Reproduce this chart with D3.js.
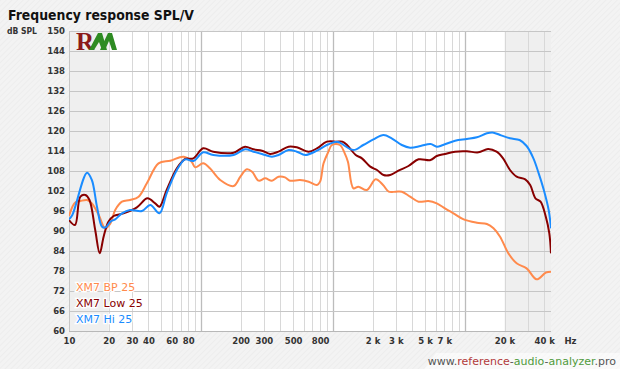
<!DOCTYPE html>
<html><head><meta charset="utf-8">
<script src="https://cdn.jsdelivr.net/npm/d3@7"></script>
<style>html,body{margin:0;padding:0;background:#f3f3f3;}svg{display:block;}</style>
</head><body>
<script>
const yTicks = [60,66,72,78,84,90,96,102,108,114,120,126,132,138,144,150];
const xTickLabels = [[10,"10"],[20,"20"],[30,"30"],[40,"40"],[60,"60"],[80,"80"],[200,"200"],[300,"300"],[500,"500"],[800,"800"],[2000,"2 k"],[3000,"3 k"],[5000,"5 k"],[7000,"7 k"],[20000,"20 k"],[40000,"40 k"]];
const seriesNames = ["XM7 BP 25","XM7 Low 25","XM7 Hi 25"];
const seriesColors = ["#ff8a4c","#880000","#1a8cff"];

const bpFreq = [10,11.1,12.2,13.7,14.9,16.8,18.8,20.6,22.4,25.2,29,33.7,38.9,47.7,58.6,74,85,90.5,104,117,140,177,199,223,244,274,307,345,387,434,473,564,656,757,800,850,925,983,1130,1230,1300,1430,1560,1810,2110,2400,2650,3000,3330,3850,4460,5300,6130,7070,8200,9800,12340,14700,16500,18500,21400,24700,29400,35000,41100,45000];
const bpDb = [94.5,98.5,99.0,99.3,98.3,94.8,90.8,92.3,96.3,98.8,99.3,100.3,104.3,110.3,111.1,112.3,110.8,109.1,110.3,108.8,105.3,103.5,106.3,108.5,107.8,105.1,105.8,105.1,106.3,106.1,105.1,105.3,104.8,103.8,104.8,110.3,113.8,115.8,115.8,113.3,110.8,102.8,103.3,102.3,105.5,103.8,101.8,101.8,101.8,100.3,98.8,99.0,98.3,96.8,95.3,93.5,92.5,92.1,90.8,88.3,83.3,80.3,78.8,75.5,77.5,77.8];

const lowFreq = [10,11.1,12.2,13.3,14.3,15.8,17.1,18.3,19.9,21.8,25.9,32.7,39.3,45,48.5,55,65.7,76,87.6,104,124,177,216,250,290,334,387,461,533,656,757,900,1070,1180,1280,1490,1660,1920,2160,2420,2720,3140,3740,4460,5500,6130,7070,8440,10360,12700,15000,17400,19500,22000,24700,28700,31300,34300,37500,41100,43700,45000];
const lowDb = [93.3,91.8,100.3,100.8,99.3,90.3,83.3,88.3,92.8,94.5,95.3,97.1,99.8,98.3,97.3,102.3,108.8,111.6,111.8,114.8,113.8,113.5,115.3,114.5,114.1,113.1,113.8,115.3,115.1,113.8,114.8,116.8,116.8,116.8,115.8,112.8,111.8,109.3,108.3,106.8,106.8,108.1,109.5,111.5,111.3,112.5,113.1,113.8,113.9,113.6,114.6,113.8,111.8,108.3,106.3,105.5,103.8,99.8,98.8,94.3,89.3,83.3];

const hiFreq = [10,10.6,13.7,14.9,16.3,17.8,19,20.6,22.4,25.2,29,35.7,41.3,48.5,55,65.7,76,87.6,104,124,177,216,250,290,345,387,461,533,617,757,900,1070,1130,1430,1700,2030,2420,2790,3330,3850,4620,5500,6130,6840,8440,10360,12340,14700,16500,18500,22000,26000,29400,33100,36300,39700,43200,45000];
const hiDb = [93.5,94.8,107.5,105.3,97.3,91.3,91.1,92.8,93.5,95.3,96.3,96.0,97.8,95.3,101.3,108.3,111.5,111.0,113.6,112.8,112.8,114.5,113.8,113.1,112.3,112.8,114.3,113.8,112.8,114.1,115.8,116.8,116.5,114.3,115.8,117.5,118.8,117.8,115.8,115.0,115.5,116.1,115.3,115.8,117.1,117.6,118.1,119.3,119.5,118.8,117.8,117.3,115.5,111.8,107.3,102.3,96.3,90.8];

const W = 620, H = 369;
const L = 69, R = 551, T = 31, B = 331;
const FONT = "'DejaVu Sans', Verdana, sans-serif";

const svg = d3.select("body").append("svg").attr("width", W).attr("height", H);
const defs = svg.append("defs");
const pat = defs.append("pattern").attr("id","hatch").attr("width",4).attr("height",4)
  .attr("patternUnits","userSpaceOnUse").attr("patternTransform","rotate(45)");
pat.append("rect").attr("width",4).attr("height",4).attr("fill","#f3f3f3");
pat.append("line").attr("x1",0).attr("y1",0).attr("x2",0).attr("y2",4).attr("stroke","#ececec").attr("stroke-width",1.5);
svg.append("rect").attr("width",W).attr("height",H).attr("fill","url(#hatch)");

const x = d3.scaleLog().domain([10, 45000]).range([L, R]);
const y = d3.scaleLinear().domain([60, 150]).range([B, T]);

// plot background
svg.append("rect").attr("x",L).attr("y",T).attr("width",R-L).attr("height",B-T).attr("fill","#fff");
svg.append("rect").attr("x",x(10)).attr("y",T).attr("width",x(20)-x(10)).attr("height",B-T).attr("fill","#efefef");
svg.append("rect").attr("x",x(20000)).attr("y",T).attr("width",R-x(20000)).attr("height",B-T).attr("fill","#efefef");

// vertical grid
const decades = [100,1000,10000];
const vgrid = [];
for (let d = 10; d <= 10000; d *= 10) for (let m = 1; m <= 9; m++) { const f = d*m; if (f > 10 && f < 45000) vgrid.push(f); }
svg.append("g").selectAll("line").data(vgrid).join("line")
  .attr("x1", d => Math.round(x(d))+0.5).attr("x2", d => Math.round(x(d))+0.5)
  .attr("y1", T).attr("y2", B)
  .attr("stroke", d => decades.includes(d) ? "#bcbcbc" : "#d8d8d8")
  .attr("stroke-width", d => decades.includes(d) ? 1.3 : 1);

// horizontal grid
svg.append("g").selectAll("line").data(yTicks.filter(v => v > 60)).join("line")
  .attr("x1", L).attr("x2", R)
  .attr("y1", d => Math.round(y(d))+0.5).attr("y2", d => Math.round(y(d))+0.5)
  .attr("stroke", "#c6c6c6").attr("stroke-width", 1);

// axes frame lines
svg.append("line").attr("x1",L+0.5).attr("x2",L+0.5).attr("y1",T).attr("y2",B).attr("stroke","#c6c6c6");
svg.append("line").attr("x1",L).attr("x2",R).attr("y1",B+0.5).attr("y2",B+0.5).attr("stroke","#b8b8b8");

// y axis labels
const yAxis = d3.axisLeft(y).tickValues(yTicks).tickSize(0).tickPadding(4);
const gy = svg.append("g").attr("transform",`translate(${L},0)`).call(yAxis);
gy.select(".domain").remove();
gy.selectAll("text").attr("font-family",FONT).attr("font-weight","bold").attr("font-size","8.5px").attr("fill","#333");

// x axis labels
const xAxis = d3.axisBottom(x).tickValues(xTickLabels.map(d=>d[0])).tickFormat((d,i)=>xTickLabels[i][1]).tickSize(0).tickPadding(7);
const gx = svg.append("g").attr("transform",`translate(0,${B})`).call(xAxis);
gx.select(".domain").remove();
gx.selectAll("text").attr("font-family",FONT).attr("font-weight","bold").attr("font-size","8.5px").attr("fill","#333");
svg.append("text").attr("x",570.5).attr("y",344).attr("text-anchor","middle").attr("font-family",FONT).attr("font-weight","bold").attr("font-size","8.5px").attr("fill","#333").text("Hz");

svg.append("text").attr("x",7).attr("y",34).attr("font-family",FONT).attr("font-weight","bold").attr("font-size","8px").attr("fill","#333")
  .attr("textLength",30).attr("lengthAdjust","spacingAndGlyphs").text("dB SPL");

// title
svg.append("text").attr("x",8).attr("y",20).attr("font-family",FONT).attr("font-weight","bold").attr("font-size","14px").attr("fill","#111")
  .attr("textLength",186).attr("lengthAdjust","spacingAndGlyphs").text("Frequency response SPL/V");

// logo
const logo = svg.append("g");
logo.append("text").attr("x",76).attr("y",50).attr("font-family","'Liberation Serif', serif").attr("font-weight","bold").attr("font-size","25px").attr("fill","#8b1a1a").text("R");
logo.append("path").attr("d","M89,50 L98,33 L102,33 L107,50 L102,50 L99,42 L94,50 Z").attr("fill","#2e8b22");
logo.append("path").attr("d","M100,50 L108,33 L112,33 L117,50 L112,50 L109,41 L105,50 Z").attr("fill","#2e8b22");

// curves
const line = d3.line().x(d => x(d[0])).y(d => y(d[1])).curve(d3.curveCatmullRom.alpha(0.5));
const series = [d3.zip(bpFreq,bpDb), d3.zip(lowFreq,lowDb), d3.zip(hiFreq,hiDb)];
const clip = defs.append("clipPath").attr("id","plotclip");
clip.append("rect").attr("x",L).attr("y",T).attr("width",R-L).attr("height",B-T);
svg.append("g").attr("clip-path","url(#plotclip)").selectAll("path").data(series).join("path")
  .attr("d", line).attr("fill","none").attr("stroke",(d,i)=>seriesColors[i]).attr("stroke-width",2).attr("stroke-linejoin","round");

// legend
svg.append("g").selectAll("text").data(seriesNames).join("text")
  .attr("x",76).attr("y",(d,i)=>291+i*16).attr("font-family",FONT).attr("font-size","11px")
  .attr("fill",(d,i)=>seriesColors[i]).attr("stroke","#fff").attr("stroke-width",2.5).attr("paint-order","stroke")
  .text(d=>d);

// watermark
svg.append("path").attr("d","M436,353 L620,353 L620,369 L424,369 Z").attr("fill","#fff").attr("opacity",0.55);
const wm = svg.append("text").attr("x",616).attr("y",365).attr("text-anchor","end").attr("font-family",FONT).attr("font-size","11px");
[["www.","#555"],["reference","#b23a3a"],["-","#555"],["audio","#4f9a3c"],["-","#555"],["analyzer","#4f9a3c"],[".pro","#555"]]
  .forEach(([t,c]) => wm.append("tspan").attr("fill",c).text(t));
</script>
</body></html>
